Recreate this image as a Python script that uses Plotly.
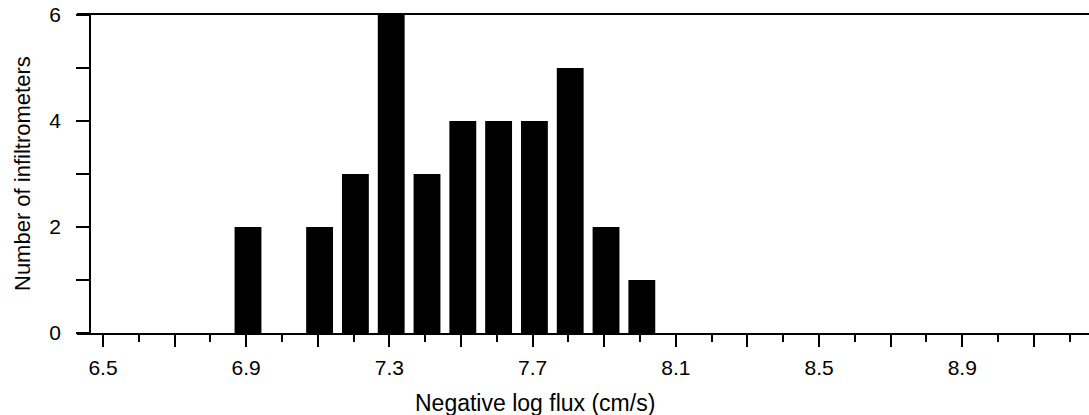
import plotly.graph_objects as go

# Data
flux_bins = [6.9, 7.1, 7.2, 7.3, 7.4, 7.5, 7.6, 7.7, 7.8, 7.9, 8.0]
counts = [2, 2, 3, 6, 3, 4, 4, 4, 5, 2, 1]

x_tickvals = [6.5, 6.7, 6.9, 7.1, 7.3, 7.5, 7.7, 7.9, 8.1, 8.3, 8.5, 8.7, 8.9, 9.1]
x_ticktext = ["6.5", "", "6.9", "", "7.3", "", "7.7", "", "8.1", "", "8.5", "", "8.9", ""]
y_tickvals = [0, 1, 2, 3, 4, 5, 6]
y_ticktext = ["0", "", "2", "", "4", "", "6"]

W, H = 1089, 415
L, R, T, B = 77, 0, 15, 82
plot_w = W - L - R

fig = go.Figure()
fig.add_trace(go.Bar(
    x=flux_bins, y=counts, width=0.075, offset=-0.0325,
    marker=dict(color="black", line=dict(width=0)),
))

font_family = "Liberation Sans, Arial, Helvetica, sans-serif"

fig.update_layout(
    width=W, height=H,
    margin=dict(l=L, r=R, t=T, b=B, pad=0),
    plot_bgcolor="white", paper_bgcolor="white",
    showlegend=False,
    font=dict(family=font_family, color="black", size=21),
    xaxis=dict(
        range=[6.4274, 9.254],
        tickmode="array", tickvals=x_tickvals, ticktext=x_ticktext,
        ticks="outside", ticklen=12, tickwidth=1.5, tickcolor="black",
        minor=dict(tick0=6.5, dtick=0.1, ticks="outside", ticklen=7,
                   tickwidth=1.5, tickcolor="black"),
        showline=True, linecolor="black", linewidth=1.5, mirror=True,
        showgrid=False, zeroline=False,
        tickfont=dict(size=21),
        ticklabelstandoff=3,
    ),
    yaxis=dict(
        range=[0, 6],
        anchor="free", position=13 / plot_w,
        tickmode="array", tickvals=y_tickvals, ticktext=y_ticktext,
        ticks="outside", ticklen=13, tickwidth=1.5, tickcolor="black",
        showline=True, linecolor="black", linewidth=1.5,
        showgrid=False, zeroline=False,
        tickfont=dict(size=21),
        ticklabelstandoff=11,
    ),
)

fig.add_annotation(
    text="Negative log flux (cm/s)", xref="paper", yref="paper",
    x=(535 - L) / plot_w, y=0, yshift=-(403 - 333), xanchor="center", yanchor="middle",
    showarrow=False, font=dict(size=23),
)
fig.add_annotation(
    text="Number of infiltrometers", xref="paper", yref="paper",
    x=0, y=0.5, xshift=-(L - 22), xanchor="center", yanchor="middle",
    textangle=-90, showarrow=False, font=dict(size=22),
)

fig.write_html("out.html")
